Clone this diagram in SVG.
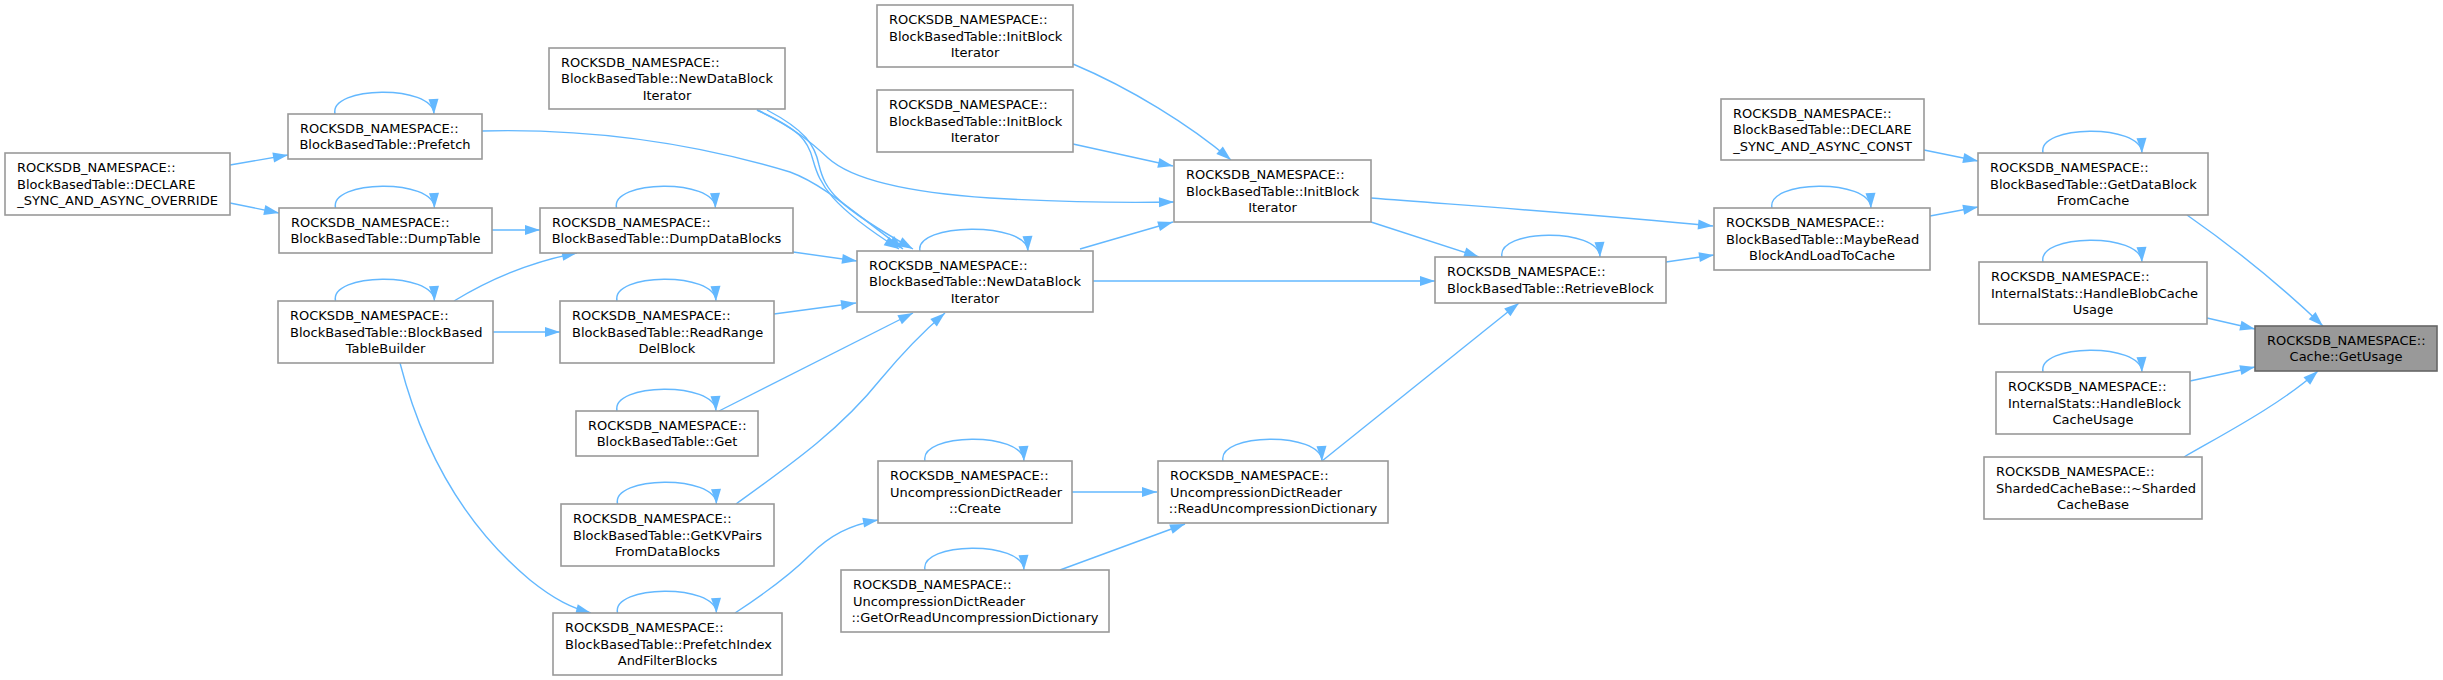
<svg xmlns="http://www.w3.org/2000/svg" width="2443" height="680" viewBox="0 0 2443 680">
<style>
.n rect{fill:#ffffff;stroke:#999999;stroke-width:1.6}
.r rect{fill:#999999;stroke:#666666;stroke-width:1.6}
text{font-family:"DejaVu Sans","Liberation Sans",sans-serif;font-size:13px;fill:#000000}
.m{text-anchor:middle}
.e path{fill:none;stroke:#63b8ff;stroke-width:1.4;marker-end:url(#ah)}
</style>
<defs>
<marker id="ah" markerUnits="userSpaceOnUse" markerWidth="16" markerHeight="11" viewBox="0 0 16 11" refX="15" refY="5" orient="auto" overflow="visible">
<path d="M0,0 L15,5 L0,10 z" fill="#63b8ff"/>
</marker>
</defs>
<rect x="0" y="0" width="2443" height="680" fill="#ffffff"/>

<g id="connectors" class="e">
<!-- straight / curved edges -->
<path d="M230,165 L288,155"/>
<path d="M230,203 L279,213"/>
<path d="M492,230 L540,230"/>
<path d="M454,301 C490,279 530,262 577,253"/>
<path d="M493,332 L560,332"/>
<path d="M400,363 C425,460 470,530 530,580 C555,600 572,608 591,613"/>
<path d="M482,131 C600,128 700,145 790,172 C820,183 845,205 903,249"/>
<path d="M757,110 C800,130 808,140 813,160 C820,185 830,205 899,249"/>
<path d="M767,110 C805,130 815,145 819,165 C825,190 835,205 913,249"/>
<path d="M757,110 C793,127 812,143 828,158 C850,178 900,192 990,198 C1060,202 1120,203 1174,202"/>
<path d="M793,252 L857,261"/>
<path d="M774,314 L856,303"/>
<path d="M719,411 L913,313"/>
<path d="M736,504 C790,465 840,430 880,380 C905,350 925,330 945,313"/>
<path d="M735,613 C770,590 795,570 810,555 C830,535 850,525 878,520"/>
<path d="M1072,492 L1157,492"/>
<path d="M1060,570 L1185,524"/>
<path d="M1322,461 L1519,303"/>
<path d="M1093,281 L1435,281"/>
<path d="M1371,222 L1479,257"/>
<path d="M1371,198 C1500,208 1600,215 1713,226"/>
<path d="M1666,262 L1714,255"/>
<path d="M1080,249 L1173,222"/>
<path d="M1073,64 C1130,88 1190,125 1231,160"/>
<path d="M1073,144 L1173,166"/>
<path d="M1924,150 L1978,161"/>
<path d="M1930,216 L1978,207"/>
<path d="M2187,215 C2230,245 2280,285 2323,326"/>
<path d="M2207,318 L2255,329"/>
<path d="M2190,381 L2255,367"/>
<path d="M2184,457 C2220,436 2280,405 2318,371"/>
<!-- self loops -->
<path d="M335,114 C329,86 433,84 434,114"/>
<path d="M335.5,208 C329.5,180 433.5,178 434.5,208"/>
<path d="M335.5,301 C329.5,273 433.5,271 434.5,301"/>
<path d="M616.5,208 C610.5,180 714.5,178 715.5,208"/>
<path d="M617,301 C611,273 715,271 716,301"/>
<path d="M617,411 C611,383 715,381 716,411"/>
<path d="M617.5,504 C611.5,476 715.5,474 716.5,504"/>
<path d="M617.5,613 C611.5,585 715.5,583 716.5,613"/>
<path d="M920,251 C914,223 1027,221 1028,251"/>
<path d="M1502,257 C1496,229 1599,227 1600,257"/>
<path d="M925,461 C919,433 1023,431 1024,461"/>
<path d="M1223,461 C1217,433 1321,431 1322,461"/>
<path d="M925,570 C919,542 1023,540 1024,570"/>
<path d="M1772,208 C1766,180 1870,178 1871,208"/>
<path d="M2043,153 C2037,125 2141,123 2142,153"/>
<path d="M2043,262 C2037,234 2141,232 2142,262"/>
<path d="M2043,372 C2037,344 2141,342 2142,372"/>
</g>

<g id="declOverride" class="n"><rect x="5" y="153" width="225" height="62"/>
<text x="17" y="172">ROCKSDB_NAMESPACE::</text><text x="17" y="188.5">BlockBasedTable::DECLARE</text><text class="m" x="117.5" y="205">_SYNC_AND_ASYNC_OVERRIDE</text></g>

<g id="prefetch" class="n"><rect x="288" y="114" width="194" height="45"/>
<text x="300" y="132.75">ROCKSDB_NAMESPACE::</text><text class="m" x="385" y="149.25">BlockBasedTable::Prefetch</text></g>

<g id="dumpTable" class="n"><rect x="279" y="208" width="213" height="45"/>
<text x="291" y="226.75">ROCKSDB_NAMESPACE::</text><text class="m" x="385.5" y="243.25">BlockBasedTable::DumpTable</text></g>

<g id="builder" class="n"><rect x="278" y="301" width="215" height="62"/>
<text x="290" y="320">ROCKSDB_NAMESPACE::</text><text x="290" y="336.5">BlockBasedTable::BlockBased</text><text class="m" x="385.5" y="353">TableBuilder</text></g>

<g id="ndbiTop" class="n"><rect x="549" y="48" width="236" height="61"/>
<text x="561" y="66.5">ROCKSDB_NAMESPACE::</text><text x="561" y="83">BlockBasedTable::NewDataBlock</text><text class="m" x="667" y="99.5">Iterator</text></g>

<g id="dumpDataBlocks" class="n"><rect x="540" y="208" width="253" height="45"/>
<text x="552" y="226.75">ROCKSDB_NAMESPACE::</text><text class="m" x="666.5" y="243.25">BlockBasedTable::DumpDataBlocks</text></g>

<g id="readRangeDel" class="n"><rect x="560" y="301" width="214" height="62"/>
<text x="572" y="320">ROCKSDB_NAMESPACE::</text><text x="572" y="336.5">BlockBasedTable::ReadRange</text><text class="m" x="667" y="353">DelBlock</text></g>

<g id="get" class="n"><rect x="576" y="411" width="182" height="45"/>
<text x="588" y="429.75">ROCKSDB_NAMESPACE::</text><text class="m" x="667" y="446.25">BlockBasedTable::Get</text></g>

<g id="getKV" class="n"><rect x="561" y="504" width="213" height="62"/>
<text x="573" y="523">ROCKSDB_NAMESPACE::</text><text x="573" y="539.5">BlockBasedTable::GetKVPairs</text><text class="m" x="667.5" y="556">FromDataBlocks</text></g>

<g id="prefetchIndex" class="n"><rect x="553" y="613" width="229" height="62"/>
<text x="565" y="632">ROCKSDB_NAMESPACE::</text><text x="565" y="648.5">BlockBasedTable::PrefetchIndex</text><text class="m" x="667.5" y="665">AndFilterBlocks</text></g>

<g id="initBlock1" class="n"><rect x="877" y="5" width="196" height="62"/>
<text x="889" y="24">ROCKSDB_NAMESPACE::</text><text x="889" y="40.5">BlockBasedTable::InitBlock</text><text class="m" x="975" y="57">Iterator</text></g>

<g id="initBlock2" class="n"><rect x="877" y="90" width="196" height="62"/>
<text x="889" y="109">ROCKSDB_NAMESPACE::</text><text x="889" y="125.5">BlockBasedTable::InitBlock</text><text class="m" x="975" y="142">Iterator</text></g>

<g id="initMain" class="n"><rect x="1174" y="160" width="197" height="62"/>
<text x="1186" y="179">ROCKSDB_NAMESPACE::</text><text x="1186" y="195.5">BlockBasedTable::InitBlock</text><text class="m" x="1272.5" y="212">Iterator</text></g>

<g id="ndbiMain" class="n"><rect x="857" y="251" width="236" height="61"/>
<text x="869" y="269.5">ROCKSDB_NAMESPACE::</text><text x="869" y="286">BlockBasedTable::NewDataBlock</text><text class="m" x="975" y="302.5">Iterator</text></g>

<g id="create" class="n"><rect x="878" y="461" width="194" height="62"/>
<text x="890" y="480">ROCKSDB_NAMESPACE::</text><text x="890" y="496.5">UncompressionDictReader</text><text class="m" x="975" y="513">::Create</text></g>

<g id="readUD" class="n"><rect x="1158" y="461" width="230" height="62"/>
<text x="1170" y="480">ROCKSDB_NAMESPACE::</text><text x="1170" y="496.5">UncompressionDictReader</text><text class="m" x="1273" y="513">::ReadUncompressionDictionary</text></g>

<g id="getOrRead" class="n"><rect x="841" y="570" width="268" height="62"/>
<text x="853" y="589">ROCKSDB_NAMESPACE::</text><text x="853" y="605.5">UncompressionDictReader</text><text class="m" x="975" y="622">::GetOrReadUncompressionDictionary</text></g>

<g id="retrieve" class="n"><rect x="1435" y="257" width="231" height="46"/>
<text x="1447" y="276.25">ROCKSDB_NAMESPACE::</text><text class="m" x="1550.5" y="292.75">BlockBasedTable::RetrieveBlock</text></g>

<g id="maybeRead" class="n"><rect x="1714" y="208" width="216" height="62"/>
<text x="1726" y="227">ROCKSDB_NAMESPACE::</text><text x="1726" y="243.5">BlockBasedTable::MaybeRead</text><text class="m" x="1822" y="260">BlockAndLoadToCache</text></g>

<g id="declConst" class="n"><rect x="1721" y="99" width="203" height="61"/>
<text x="1733" y="117.5">ROCKSDB_NAMESPACE::</text><text x="1733" y="134">BlockBasedTable::DECLARE</text><text class="m" x="1822.5" y="150.5">_SYNC_AND_ASYNC_CONST</text></g>

<g id="gdbfc" class="n"><rect x="1978" y="153" width="230" height="62"/>
<text x="1990" y="172">ROCKSDB_NAMESPACE::</text><text x="1990" y="188.5">BlockBasedTable::GetDataBlock</text><text class="m" x="2093" y="205">FromCache</text></g>

<g id="handleBlob" class="n"><rect x="1979" y="262" width="228" height="62"/>
<text x="1991" y="281">ROCKSDB_NAMESPACE::</text><text x="1991" y="297.5">InternalStats::HandleBlobCache</text><text class="m" x="2093" y="314">Usage</text></g>

<g id="getUsage" class="r"><rect x="2255" y="326" width="182" height="45"/>
<text x="2267" y="344.75">ROCKSDB_NAMESPACE::</text><text class="m" x="2346" y="361.25">Cache::GetUsage</text></g>

<g id="handleBlock" class="n"><rect x="1996" y="372" width="194" height="62"/>
<text x="2008" y="391">ROCKSDB_NAMESPACE::</text><text x="2008" y="407.5">InternalStats::HandleBlock</text><text class="m" x="2093" y="424">CacheUsage</text></g>

<g id="sharded" class="n"><rect x="1984" y="457" width="218" height="62"/>
<text x="1996" y="476">ROCKSDB_NAMESPACE::</text><text x="1996" y="492.5">ShardedCacheBase::~Sharded</text><text class="m" x="2093" y="509">CacheBase</text></g>
</svg>
